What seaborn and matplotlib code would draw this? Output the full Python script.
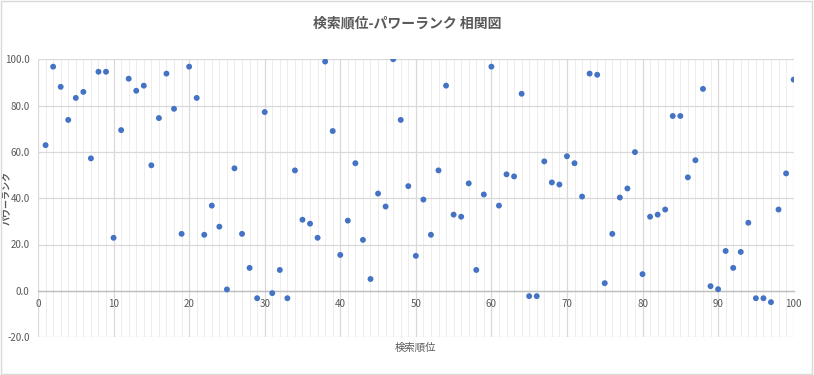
#!/usr/bin/env python3

import pandas as pd
import matplotlib.pyplot as plt
import seaborn as sns
from matplotlib.patches import Rectangle
from matplotlib.ticker import MultipleLocator, FormatStrFormatter

# Data: search rank (1-100) vs power rank
search_rank = list(range(1, 101))
power_rank = [
    62.9, 96.8, 88.1, 73.8, 83.3, 85.9, 57.2, 94.6, 94.6, 22.9,
    69.4, 91.6, 86.4, 88.6, 54.2, 74.6, 93.8, 78.6, 24.6, 96.8,
    83.3, 24.2, 36.8, 27.7, 0.6, 52.9, 24.6, 9.9, -3.2, 77.2,
    -1.0, 9.0, -3.2, 52.0, 30.7, 29.0, 22.9, 99.0, 69.0, 15.5,
    30.3, 55.1, 22.0, 5.1, 42.0, 36.4, 100.0, 73.8, 45.2, 15.1,
    39.4, 24.2, 52.0, 88.6, 32.9, 32.0, 46.4, 9.0, 41.6, 96.8,
    36.8, 50.3, 49.4, 85.1, -2.3, -2.3, 55.9, 46.8, 45.9, 58.1,
    55.1, 40.7, 93.8, 93.3, 3.3, 24.6, 40.3, 44.2, 59.9, 7.2,
    32.0, 32.9, 35.1, 75.5, 75.5, 49.0, 56.4, 87.2, 2.0, 0.7,
    17.2, 9.9, 16.8, 29.4, -3.2, -3.2, -4.9, 35.1, 50.7, 91.2,
]

df = pd.DataFrame({'検索順位': search_rank, 'パワーランク': power_rank})

sns.set_style('white')
plt.rcParams['font.family'] = ['Noto Sans CJK JP', 'DejaVu Sans']

fig = plt.figure(figsize=(8.14, 3.75), dpi=100)
ax = fig.add_axes([0.0467, 0.101, 0.9283, 0.741])

# grid first so points sit on top
ax.xaxis.set_major_locator(MultipleLocator(10))
ax.xaxis.set_minor_locator(MultipleLocator(1))
ax.yaxis.set_major_locator(MultipleLocator(20))
ax.grid(which='major', axis='both', color='#D9D9D9', linewidth=0.9)
ax.grid(which='minor', axis='x', color='#EDEDED', linewidth=0.7)
ax.set_axisbelow(True)

sns.scatterplot(data=df, x='検索順位', y='パワーランク', ax=ax,
                color='#4472C4', s=18, edgecolor='none', zorder=3)

ax.set_xlim(0, 100)
ax.set_ylim(-20, 100)
ax.yaxis.set_major_formatter(FormatStrFormatter('%.1f'))

for side in ['top', 'right', 'left']:
    ax.spines[side].set_visible(False)
ax.spines['bottom'].set_position(('data', 0))
ax.spines['bottom'].set_color('#BFBFBF')
ax.spines['bottom'].set_linewidth(1.0)

ax.tick_params(axis='both', which='both', length=0, labelsize=7,
               labelcolor='#595959')
ax.tick_params(axis='x', pad=6)
ax.tick_params(axis='y', pad=6)

ax.set_xlabel('検索順位', fontsize=7.5, color='#595959')
ax.xaxis.set_label_coords(0.5, -0.02)
ax.set_ylabel('パワーランク', fontsize=6.5, color='#595959', fontweight='bold')
ax.yaxis.set_label_coords(-0.036, 0.5)

fig.suptitle('検索順位-パワーランク 相関図', y=0.955, fontsize=10,
             color='#595959', fontweight='bold')

# light border around whole chart
fig.patches.append(Rectangle((0.001, 0.002), 0.997, 0.995, transform=fig.transFigure,
                             fill=False, edgecolor='#D9D9D9', linewidth=1))

fig.savefig('out.png', dpi=100)
